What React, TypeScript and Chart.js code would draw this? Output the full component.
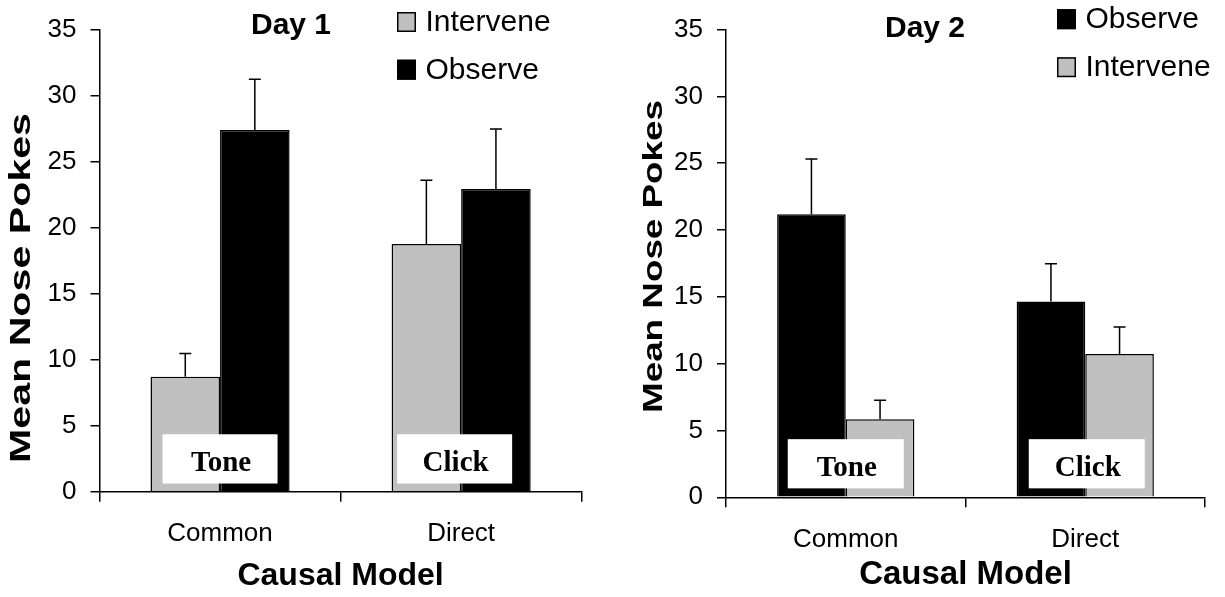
import React, { useEffect, useRef } from 'react';
import { Chart, registerables } from 'chart.js';

Chart.register(...registerables);

// ---------- data ----------
const categories = ['Common', 'Direct'];
const cueLabels = ['Tone', 'Click'];
const xAxisTitle = 'Causal Model';
const yAxisTitle = 'Mean Nose Pokes';

const day1Intervene = [8.71, 18.77];
const day1InterveneErr = [1.75, 4.82];
const day1Observe = [27.4, 22.93];
const day1ObserveErr = [3.84, 4.54];

const day2Observe = [21.19, 14.66];
const day2ObserveErr = [4.12, 2.81];
const day2Intervene = [5.84, 10.72];
const day2InterveneErr = [1.43, 2.02];

const yMin = 0;
const yMax = 35;
const yStep = 5;

// ---------- styles ----------
const SANS = "'Liberation Sans', Arial, Helvetica, sans-serif";
const SERIF = "'Liberation Serif', 'Times New Roman', Times, serif";
const GREY = '#C0C0C0';
const BLACK = '#000000';

type PanelCfg = {
  title: string;
  left: number;
  width: number;
  series: { label: string; data: number[]; err: number[]; color: string }[];
  padding: { left: number; top: number; right: number; bottom: number };
  yWidth: number;
  xHeight: number;
  catPct: number;
  xTickPad: number;
  xTitleSize: number;
  xTitlePad: number;
  yTitle: { x: number; y: number; len: number; size: number };
  titlePos: { x: number; y: number; size: number };
  legend: { x: number; y: number; gap: number; size: number };
  cue: { width: number; top: number; bottom: number; shifts: number[] };
};

const panels: PanelCfg[] = [
  {
    title: 'Day 1',
    left: 0,
    width: 612,
    series: [
      { label: 'Intervene', data: day1Intervene, err: day1InterveneErr, color: GREY },
      { label: 'Observe', data: day1Observe, err: day1ObserveErr, color: BLACK },
    ],
    padding: { left: 0, top: 26.7, right: 30.3, bottom: 0 },
    yWidth: 99.5,
    xHeight: 105.3,
    catPct: 0.577,
    xTickPad: 16.7,
    xTitleSize: 32,
    xTitlePad: 1.3,
    yTitle: { x: 22, y: 288, len: 350, size: 29 },
    titlePos: { x: 291, y: 25.3, size: 30 },
    legend: { x: 397, y: 22, gap: 47.7, size: 30 },
    cue: { width: 115, top: 4.35, bottom: 0.62, shifts: [0, -6.5] },
  },
  {
    title: 'Day 2',
    left: 612,
    width: 613,
    series: [
      { label: 'Observe', data: day2Observe, err: day2ObserveErr, color: BLACK },
      { label: 'Intervene', data: day2Intervene, err: day2InterveneErr, color: GREY },
    ],
    padding: { left: 0, top: 24, right: 20, bottom: 0 },
    yWidth: 114,
    xHeight: 99.7,
    catPct: 0.573,
    xTickPad: 17.1,
    xTitleSize: 33,
    xTitlePad: 2.2,
    yTitle: { x: 42, y: 256.5, len: 313, size: 28 },
    titlePos: { x: 313, y: 29, size: 30 },
    legend: { x: 445, y: 19.2, gap: 48, size: 30 },
    cue: { width: 116, top: 4.35, bottom: 0.67, shifts: [0, 1.5] },
  },
];

function Panel({ cfg }: { cfg: PanelCfg }) {
  const ref = useRef<HTMLCanvasElement>(null);

  useEffect(() => {
    const canvas = ref.current;
    if (!canvas) return;

    const overlay = {
      id: 'overlay',
      afterDatasetsDraw(chart: any) {
        const c: CanvasRenderingContext2D = chart.ctx;
        const xs = chart.scales.x;
        const ys = chart.scales.y;
        // error bars (upper only)
        chart.data.datasets.forEach((ds: any, di: number) => {
          const meta = chart.getDatasetMeta(di);
          meta.data.forEach((bar: any, i: number) => {
            const v = ds.data[i] as number;
            const e = cfg.series[di].err[i];
            const yTop = ys.getPixelForValue(v + e);
            const yBar = ys.getPixelForValue(v);
            c.save();
            c.strokeStyle = '#000';
            c.lineWidth = 1.5;
            c.beginPath();
            c.moveTo(bar.x, yBar);
            c.lineTo(bar.x, yTop);
            c.moveTo(bar.x - 6, yTop);
            c.lineTo(bar.x + 6, yTop);
            c.stroke();
            c.restore();
          });
        });
        // cue boxes
        cueLabels.forEach((lab, i) => {
          const cx = xs.getPixelForValue(i) + cfg.cue.shifts[i];
          const top = ys.getPixelForValue(cfg.cue.top);
          const bottom = ys.getPixelForValue(cfg.cue.bottom);
          const w = cfg.cue.width;
          c.save();
          c.fillStyle = '#fff';
          c.fillRect(cx - w / 2, top, w, bottom - top);
          c.fillStyle = '#000';
          c.font = `bold 29px ${SERIF}`;
          c.textAlign = 'center';
          c.textBaseline = 'alphabetic';
          c.fillText(lab, cx + 1, (top + bottom) / 2 + 12.5);
          c.restore();
        });
      },
      afterDraw(chart: any) {
        const c: CanvasRenderingContext2D = chart.ctx;
        // title
        c.save();
        c.fillStyle = '#000';
        c.font = `bold ${cfg.titlePos.size}px ${SANS}`;
        c.textAlign = 'center';
        c.textBaseline = 'middle';
        c.fillText(cfg.title, cfg.titlePos.x, cfg.titlePos.y);
        c.restore();
        // legend
        chart.data.datasets.forEach((ds: any, i: number) => {
          const cy = cfg.legend.y + i * cfg.legend.gap;
          c.save();
          c.fillStyle = ds.backgroundColor;
          c.fillRect(cfg.legend.x, cy - 10, 19, 20);
          c.strokeStyle = '#000';
          c.lineWidth = 1.5;
          c.strokeRect(cfg.legend.x + 0.75, cy - 9.25, 17.5, 18.5);
          c.fillStyle = '#000';
          c.font = `${cfg.legend.size}px ${SANS}`;
          c.textAlign = 'left';
          c.textBaseline = 'middle';
          c.fillText(ds.label, cfg.legend.x + 28.5, cy + 1);
          c.restore();
        });
        // y axis title (rotated, stretched along its length)
        c.save();
        c.fillStyle = '#000';
        c.font = `bold ${cfg.yTitle.size}px ${SANS}`;
        const wNat = c.measureText(yAxisTitle).width;
        c.translate(cfg.yTitle.x, cfg.yTitle.y);
        c.rotate(-Math.PI / 2);
        c.scale(cfg.yTitle.len / wNat, 1);
        c.textAlign = 'center';
        c.textBaseline = 'middle';
        c.fillText(yAxisTitle, 0, 0);
        c.restore();
      },
    };

    const chart = new Chart(canvas, {
      type: 'bar',
      data: {
        labels: categories,
        datasets: cfg.series.map((s) => ({
          label: s.label,
          data: s.data,
          backgroundColor: s.color,
          borderColor: '#000',
          borderWidth: 1.5,
          categoryPercentage: cfg.catPct,
          barPercentage: 1,
        })),
      },
      options: {
        responsive: false,
        animation: false,
        events: [],
        layout: { padding: cfg.padding },
        plugins: {
          legend: { display: false },
          tooltip: { enabled: false },
          title: { display: false },
        },
        scales: {
          x: {
            offset: true,
            grid: {
              display: true,
              drawOnChartArea: false,
              drawTicks: true,
              tickLength: 10,
              color: '#000',
              lineWidth: 1.5,
              offset: true,
            },
            border: { display: true, color: '#000', width: 1.5 },
            ticks: {
              color: '#000',
              font: { family: SANS, size: 26 },
              padding: cfg.xTickPad,
            },
            title: {
              display: true,
              text: xAxisTitle,
              color: '#000',
              font: { family: SANS, size: cfg.xTitleSize, weight: 'bold' },
              padding: { top: 0, bottom: cfg.xTitlePad },
            },
            afterFit: (s: any) => {
              s.height = cfg.xHeight;
            },
          },
          y: {
            min: yMin,
            max: yMax,
            ticks: {
              stepSize: yStep,
              color: '#000',
              font: { family: SANS, size: 26 },
              padding: 14,
            },
            grid: {
              display: true,
              drawOnChartArea: false,
              drawTicks: true,
              tickLength: 9,
              color: '#000',
              lineWidth: 1.5,
            },
            border: { display: true, color: '#000', width: 1.5 },
            afterFit: (s: any) => {
              s.width = cfg.yWidth;
            },
          },
        },
      } as any,
      plugins: [overlay],
    });

    return () => chart.destroy();
  }, [cfg]);

  return (
    <canvas
      ref={ref}
      width={cfg.width}
      height={597}
      style={{ position: 'absolute', left: cfg.left, top: 0, width: cfg.width, height: 597 }}
    />
  );
}

export default function App() {
  return (
    <div
      style={{
        position: 'absolute',
        left: 0,
        top: 0,
        width: 1225,
        height: 597,
        background: '#fff',
        overflow: 'hidden',
      }}
    >
      {panels.map((p) => (
        <Panel key={p.title} cfg={p} />
      ))}
    </div>
  );
}
